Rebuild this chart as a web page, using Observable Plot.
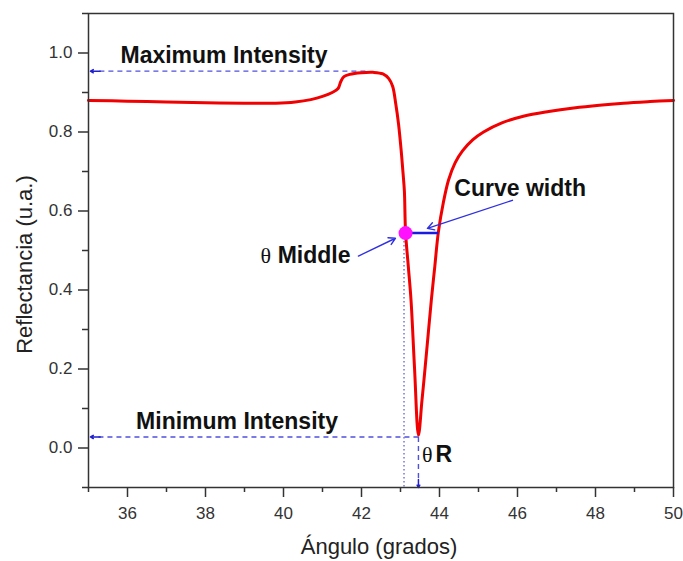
<!DOCTYPE html>
<html><head><meta charset="utf-8">
<script src="https://cdn.jsdelivr.net/npm/d3@7"></script>
<script src="https://cdn.jsdelivr.net/npm/@observablehq/plot@0.6"></script>
<style>body{margin:0;background:#fff}</style>
</head><body><div id="chart"></div>
<script>
// SPR reflectance curve
const angle = [35.0, 36.0, 37.0, 38.0, 39.0, 39.8, 40.3, 40.7, 41.0, 41.25, 41.4, 41.47, 41.55, 41.7, 42.0, 42.3, 42.55, 42.7, 42.8, 42.88, 42.95, 43.02, 43.07, 43.1, 43.13, 43.2, 43.27, 43.36, 43.46, 43.55, 43.63, 43.71, 43.79, 43.88, 43.97, 44.1, 44.23, 44.4, 44.59, 44.85, 45.13, 45.6, 46.15, 46.8, 47.44, 48.1, 48.72, 49.4, 50.0];
const reflect = [0.880, 0.878, 0.876, 0.874, 0.873, 0.873, 0.876, 0.882, 0.890, 0.900, 0.910, 0.928, 0.940, 0.946, 0.950, 0.951, 0.947, 0.935, 0.915, 0.870, 0.820, 0.750, 0.690, 0.650, 0.546, 0.460, 0.374, 0.202, 0.032, 0.120, 0.202, 0.288, 0.374, 0.460, 0.546, 0.622, 0.678, 0.722, 0.752, 0.780, 0.800, 0.823, 0.840, 0.852, 0.861, 0.868, 0.873, 0.877, 0.880];

const xMajor = [36, 38, 40, 42, 44, 46, 48, 50];
const xMinor = [35, 37, 39, 41, 43, 45, 47, 49];
const yMajor = [0.0, 0.2, 0.4, 0.6, 0.8, 1.0];
const yMinor = [-0.1, 0.1, 0.3, 0.5, 0.7, 0.9, 1.1];

// key points
const maxIntensity = 0.954;
const minAngle = 43.46, minIntensity = 0.028;
const midAngle = 43.13, midIntensity = 0.544, midRightAngle = 43.97;

// annotation labels
const labelText = ["Maximum Intensity", "Minimum Intensity", "Curve width", "Middle", "R"];
const labelX = [35.82, 36.22, 44.38, 39.85, 43.9];
const labelY = [0.974, 0.049, 0.639, 0.468, -0.036];
const thetaX = [39.41, 43.55];
const thetaY = [0.468, -0.036];

// pointer arrows: [x1, y1, x2, y2]
const pointers = [
  [45.87, 0.627, 43.69, 0.556],
  [41.92, 0.486, 42.87, 0.531]
];

const curve = angle.map((a, i) => ({a, r: reflect[i]}));
const labels = labelText.map((t, i) => ({t, x: labelX[i], y: labelY[i]}));
const thetas = thetaX.map((x, i) => ({x, y: thetaY[i]}));
const arrows = pointers.map(([x1, y1, x2, y2]) => ({x1, y1, x2, y2}));

const blueDash = "#5050e0";
const xLeft = 35;
const yBottom = -0.1;

const chart = Plot.plot({
  width: 683,
  height: 561,
  marginLeft: 88,
  marginRight: 10,
  marginTop: 13,
  marginBottom: 74,
  style: {fontFamily: "'Liberation Sans', Arial, sans-serif", background: "#fff", color: "#222"},
  x: {domain: [35, 50]},
  y: {domain: [-0.1, 1.1]},
  marks: [
    // dashed guides
    Plot.link([{x1: 42.1, x2: xLeft + 0.2, y: maxIntensity}], {x1: "x1", x2: "x2", y1: "y", y2: "y", stroke: blueDash, strokeWidth: 1.4, strokeDasharray: "5,4"}),
    Plot.arrow([{x1: xLeft + 0.3, x2: xLeft + 0.05, y: maxIntensity}], {x1: "x1", x2: "x2", y1: "y", y2: "y", stroke: "#2020d0", strokeWidth: 1.5, headLength: 7}),
    Plot.link([{x1: minAngle, x2: xLeft + 0.2, y: minIntensity}], {x1: "x1", x2: "x2", y1: "y", y2: "y", stroke: blueDash, strokeWidth: 1.4, strokeDasharray: "5,4"}),
    Plot.arrow([{x1: xLeft + 0.3, x2: xLeft + 0.05, y: minIntensity}], {x1: "x1", x2: "x2", y1: "y", y2: "y", stroke: "#2020d0", strokeWidth: 1.5, headLength: 7}),
    Plot.link([{x: minAngle, y1: minIntensity, y2: yBottom + 0.02}], {x1: "x", x2: "x", y1: "y1", y2: "y2", stroke: blueDash, strokeWidth: 1.4, strokeDasharray: "5,4"}),
    Plot.arrow([{x: minAngle, y1: yBottom + 0.02, y2: yBottom}], {x1: "x", x2: "x", y1: "y1", y2: "y2", stroke: "#2020d0", strokeWidth: 1.5, headLength: 7}),
    Plot.link([{x: midAngle - 0.04, y1: midIntensity, y2: yBottom}], {x1: "x", x2: "x", y1: "y1", y2: "y2", stroke: "#6a6ad8", strokeWidth: 1.4, strokeDasharray: "1.5,2.5"}),
    // curve
    Plot.line(curve, {x: "a", y: "r", stroke: "#f00000", strokeWidth: 3, curve: "catmull-rom"}),
    // curve width
    Plot.link([{x1: midAngle, x2: midRightAngle, y: midIntensity}], {x1: "x1", x2: "x2", y1: "y", y2: "y", stroke: "#1a1ae0", strokeWidth: 2.5}),
    Plot.dot([{x: midAngle, y: midIntensity}], {x: "x", y: "y", r: 7, fill: "#ff10ff", stroke: "none"}),
    // pointers
    Plot.arrow(arrows, {x1: "x1", y1: "y1", x2: "x2", y2: "y2", stroke: "#3030e0", strokeWidth: 1.4, headLength: 8}),
    // labels
    Plot.text(labels, {x: "x", y: "y", text: "t", textAnchor: "start", lineAnchor: "bottom", fontSize: 23, fontWeight: "bold", fill: "#111"}),
    Plot.text(thetas, {x: "x", y: "y", text: () => "θ", textAnchor: "start", lineAnchor: "bottom", fontSize: 22, fontFamily: "'Liberation Serif', serif", fill: "#111"}),
    // axes
    Plot.frame({stroke: "#333", strokeWidth: 1.5}),
    Plot.axisX(xMajor, {tickSize: 10, tickPadding: 9, fontSize: 17, label: null, stroke: "#333", strokeWidth: 1.5, fill: "#333", tickFormat: d => String(d)}),
    Plot.axisX(xMinor, {tickSize: 5, label: null, stroke: "#333", strokeWidth: 1.5, tickFormat: () => ""}),
    Plot.axisY(yMajor, {tickSize: 10, tickPadding: 6, fontSize: 17, label: null, stroke: "#333", strokeWidth: 1.5, fill: "#333", tickFormat: d => d.toFixed(1)}),
    Plot.axisY(yMinor, {tickSize: 6, label: null, stroke: "#333", strokeWidth: 1.5, tickFormat: () => ""}),
    Plot.text(["Ángulo (grados)"], {frameAnchor: "bottom", dy: 66, dx: -2, textAnchor: "middle", lineAnchor: "bottom", fontSize: 22, fill: "#222"}),
    Plot.text(["Reflectancia (u.a.)"], {frameAnchor: "left", dx: -64, dy: 14, rotate: -90, textAnchor: "middle", lineAnchor: "middle", fontSize: 22, fill: "#222"})
  ]
});
document.getElementById("chart").appendChild(chart);
</script>
</body></html>
